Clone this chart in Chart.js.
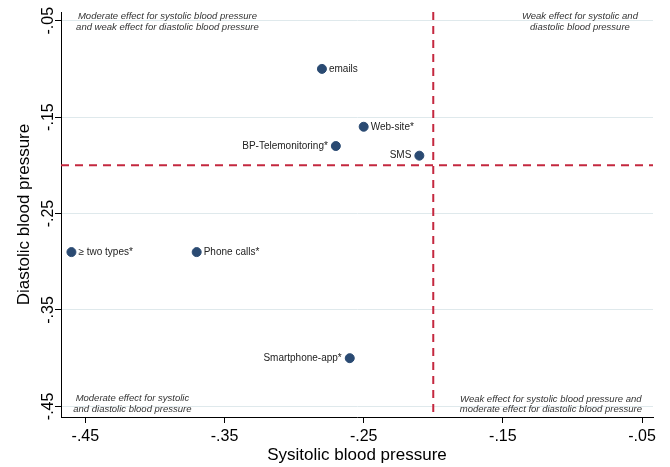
<!DOCTYPE html>
<html>
<head>
<meta charset="utf-8">
<script src="https://cdn.jsdelivr.net/npm/chart.js@4/dist/chart.umd.min.js"></script>
<style>
  body { margin: 0; background: #fff; }
  canvas { display: block; }
</style>
</head>
<body>
<canvas id="bpChart" width="670" height="467"></canvas>
<script>
// intervention types and their effects
const types = ['emails', 'Web-site*', 'BP-Telemonitoring*', 'SMS', '\u2265 two types*', 'Phone calls*', 'Smartphone-app*'];
const systolic = [-0.28, -0.25, -0.27, -0.21, -0.46, -0.37, -0.26];
const diastolic = [-0.10, -0.16, -0.18, -0.19, -0.29, -0.29, -0.40];
const labelSide = ['right', 'right', 'left', 'left', 'right', 'right', 'left'];

const xTicks = [-0.45, -0.35, -0.25, -0.15, -0.05];
const yTicks = [-0.45, -0.35, -0.25, -0.15, -0.05];
const cutoff = -0.2;

// quadrant notes
const notes = [
  { x: -0.391, y: -0.051, text: ['Moderate effect for systolic blood pressure', 'and weak effect for diastolic blood pressure'] },
  { x: -0.0946, y: -0.051, text: ['Weak effect for systolic and', 'diastolic blood pressure'] },
  { x: -0.4162, y: -0.4472, text: ['Moderate effect for systolic', 'and diastolic blood pressure'] },
  { x: -0.1155, y: -0.4477, text: ['Weak effect for systolic blood pressure and', 'moderate effect for diastolic blood pressure'] }
];

const FONT = '"Liberation Sans", Arial, Helvetica, sans-serif';
const fmt = v => {
  const s = (Math.round(v * 100) / 100).toFixed(2);
  return s.replace('0.', '.');
};

const overlay = {
  id: 'overlay',
  beforeDatasetsDraw(chart) {
    const { ctx, chartArea: a, scales: { x, y } } = chart;
    ctx.save();
    // notes
    ctx.fillStyle = '#333';
    ctx.font = 'italic 9.5px ' + FONT;
    ctx.textAlign = 'center';
    ctx.textBaseline = 'middle';
    notes.forEach(n => {
      const px = x.getPixelForValue(n.x), py = y.getPixelForValue(n.y);
      ctx.fillText(n.text[0], px, py - 5.2);
      ctx.fillText(n.text[1], px, py + 5.3);
    });
    // reference lines
    ctx.strokeStyle = '#c4283f';
    ctx.lineWidth = 2;
    ctx.setLineDash([8, 6]);
    const cx = x.getPixelForValue(cutoff), cy = y.getPixelForValue(cutoff);
    ctx.beginPath();
    ctx.moveTo(cx, a.top); ctx.lineTo(cx, a.bottom);
    ctx.moveTo(a.left, cy); ctx.lineTo(a.right, cy);
    ctx.stroke();
    ctx.restore();
  },
  afterDraw(chart) {
    const { ctx, scales: { y } } = chart;
    ctx.save();
    // rotated y tick labels
    ctx.fillStyle = '#000';
    ctx.font = '16px ' + FONT;
    ctx.textAlign = 'center';
    ctx.textBaseline = 'alphabetic';
    y.ticks.forEach(t => {
      const py = y.getPixelForValue(t.value);
      ctx.save();
      ctx.translate(53, py);
      ctx.rotate(-Math.PI / 2);
      ctx.fillText(fmt(t.value), 0, 0);
      ctx.restore();
    });
    // point labels
    const meta = chart.getDatasetMeta(0);
    ctx.fillStyle = '#222';
    ctx.font = '10px ' + FONT;
    ctx.textBaseline = 'middle';
    meta.data.forEach((pt, i) => {
      const right = labelSide[i] === 'right';
      ctx.textAlign = right ? 'left' : 'right';
      ctx.fillText(types[i], pt.x + (right ? 7 : -8), pt.y);
    });
    ctx.restore();
  }
};

new Chart(document.getElementById('bpChart').getContext('2d'), {
  type: 'scatter',
  data: {
    labels: types,
    datasets: [{
      label: 'Effect',
      data: systolic.map((v, i) => ({ x: v, y: diastolic[i] })),
      backgroundColor: '#2a4a72',
      borderColor: '#2a4a72',
      pointRadius: 4.5,
      pointHoverRadius: 4.5
    }]
  },
  options: {
    responsive: false,
    animation: false,
    layout: { padding: { top: 12, right: 17, left: 0, bottom: 0 } },
    plugins: { legend: { display: false }, tooltip: { enabled: false } },
    scales: {
      x: {
        type: 'linear',
        min: -0.4675,
        max: -0.0421,
        afterBuildTicks: s => { s.ticks = xTicks.map(v => ({ value: v })); },
        afterFit: s => { s.height = 50; s.paddingLeft = 0; s.paddingRight = 0; },
        ticks: {
          color: '#000',
          font: { family: FONT, size: 16 },
          padding: 4,
          maxRotation: 0,
          autoSkip: false,
          callback: v => fmt(v)
        },
        grid: { drawOnChartArea: false, tickColor: '#000', tickLength: 6 },
        border: { color: '#000', width: 1 },
        title: {
          display: true,
          text: 'Sysitolic blood pressure',
          color: '#000',
          font: { family: FONT, size: 17 },
          padding: { top: 0, bottom: 1 }
        }
      },
      y: {
        type: 'linear',
        min: -0.461,
        max: -0.041,
        afterBuildTicks: s => { s.ticks = yTicks.map(v => ({ value: v })); },
        afterFit: s => { s.width = 61; s.paddingTop = 0; s.paddingBottom = 0; },
        ticks: { display: false },
        grid: { color: '#dfe9ec', lineWidth: 1, tickColor: '#000', tickLength: 6 },
        border: { color: '#000', width: 1 },
        title: {
          display: true,
          text: 'Diastolic blood pressure',
          color: '#000',
          font: { family: FONT, size: 17 },
          padding: { top: 14, bottom: 0 }
        }
      }
    }
  },
  plugins: [overlay]
});
</script>
</body>
</html>
